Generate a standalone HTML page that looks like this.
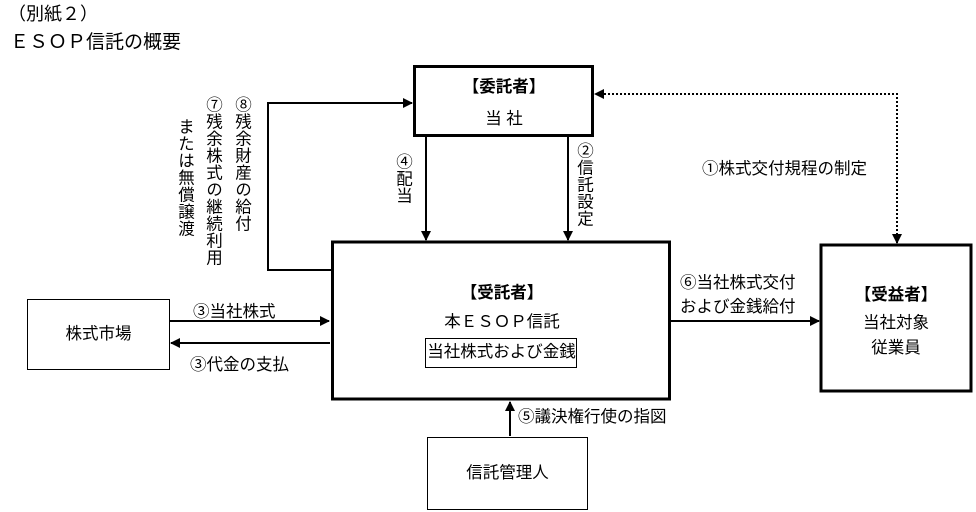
<!DOCTYPE html>
<html><head><meta charset="utf-8"><style>
body{margin:0;width:976px;height:512px;background:#fff;overflow:hidden;font-family:"Liberation Sans","Noto Sans CJK JP",sans-serif;color:#000}
.t{position:absolute;font-size:16.5px;white-space:nowrap;line-height:1}
.v{position:absolute;font-size:16.5px;writing-mode:vertical-rl;text-orientation:upright;line-height:1;letter-spacing:0.5px}
</style></head><body>
<svg width="976" height="512" style="position:absolute;left:0;top:0">
<defs><marker id="a" markerWidth="10" markerHeight="10" refX="9" refY="5" orient="auto-start-reverse" markerUnits="userSpaceOnUse"><path d="M0,0 L10,5 L0,10 z" fill="#000"/></marker></defs>
<g fill="none" stroke="#000">
<rect x="414.5" y="66.5" width="178" height="69" stroke-width="3"/>
<rect x="332.5" y="242" width="337" height="157" stroke-width="3"/>
<rect x="821" y="245" width="150" height="146" stroke-width="3"/>
<rect x="27.5" y="299.5" width="142" height="70"/>
<rect x="427.5" y="437.5" width="160" height="72"/>
<rect x="425.5" y="338.5" width="151" height="29"/>
<g stroke-width="2">
<line x1="426" y1="137" x2="426" y2="240" marker-end="url(#a)"/>
<line x1="568" y1="137" x2="568" y2="240" marker-end="url(#a)"/>
<polyline points="331,270 268,270 268,103 412,103" marker-end="url(#a)"/>
<line x1="670" y1="321" x2="819" y2="321" marker-end="url(#a)"/>
<line x1="170" y1="321" x2="329" y2="321" marker-end="url(#a)"/>
<line x1="330" y1="343" x2="171" y2="343" marker-end="url(#a)"/>
<line x1="510" y1="436" x2="510" y2="402" marker-end="url(#a)"/>
<polyline points="897,243 897,94 595,94" stroke-dasharray="2,2" marker-start="url(#a)" marker-end="url(#a)"/>
</g></g></svg>
<div class="t" style="left:8px;top:5px;font-size:18px">（別紙２）</div>
<div class="t" style="left:10px;top:33px;font-size:19px">ＥＳＯＰ信託の概要</div>
<div class="t" style="left:414px;top:79px;width:180px;text-align:center;font-weight:bold">【委託者】</div>
<div class="t" style="left:414px;top:111px;width:180px;text-align:center">当 社</div>
<div class="t" style="left:332px;top:285px;width:340px;text-align:center;font-weight:bold">【受託者】</div>
<div class="t" style="left:332px;top:314px;width:340px;text-align:center">本ＥＳＯＰ信託</div>
<div class="t" style="left:426px;top:344px;width:151px;text-align:center">当社株式および金銭</div>
<div class="t" style="left:821px;top:287px;width:150px;text-align:center;font-weight:bold">【受益者】</div>
<div class="t" style="left:821px;top:315px;width:150px;text-align:center">当社対象</div>
<div class="t" style="left:821px;top:340px;width:150px;text-align:center">従業員</div>
<div class="t" style="left:27px;top:326px;width:143px;text-align:center">株式市場</div>
<div class="t" style="left:427px;top:465px;width:161px;text-align:center">信託管理人</div>
<div class="t" style="left:193px;top:304px">③当社株式</div>
<div class="t" style="left:190px;top:357px">③代金の支払</div>
<div class="t" style="left:680px;top:275px">⑥当社株式交付</div>
<div class="t" style="left:680px;top:299px">および金銭給付</div>
<div class="t" style="left:518px;top:409px">⑤議決権行使の指図</div>
<div class="t" style="left:702px;top:161px">①株式交付規程の制定</div>
<div class="v" style="left:394px;top:153px">④配当</div>
<div class="v" style="left:575px;top:142px">②信託設定</div>
<div class="v" style="left:233px;top:96px">⑧残余財産の給付</div>
<div class="v" style="left:204px;top:96px">⑦残余株式の継続利用</div>
<div class="v" style="left:176px;top:118px">または無償譲渡</div>
</body></html>
